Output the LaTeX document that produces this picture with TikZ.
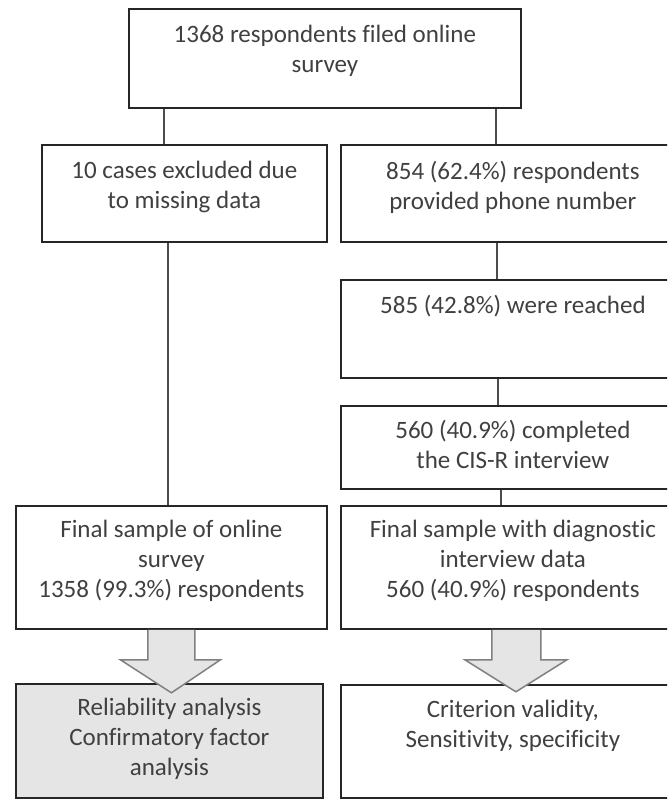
\documentclass[tikz,border=0pt]{standalone}
\usepackage{fontspec}
\setmainfont{Carlito}[Ligatures=NoCommon]
\usetikzlibrary{calc}
\begin{document}
\begin{tikzpicture}[x=1pt,y=-1pt,
  box/.style={draw=black!85, line width=1.8pt, rectangle, inner sep=0pt, anchor=north west},
  txt/.style={anchor=north, align=center, inner sep=0pt, text=black!75, font=\fontsize{25}{30}\selectfont},
  conn/.style={draw=black!70, line width=1.4pt},
  blockarrow/.style={fill=gray!20, draw=gray, line width=1.5pt, line join=miter}]
\useasboundingbox (0,0) rectangle (667,799);
\clip (0,0) rectangle (667,799);
\fill[white] (0,0) rectangle (667,799);

% boxes
\node[box, minimum width=392pt, minimum height=99pt] (top) at (128,8) {};
\node[box, minimum width=285pt, minimum height=97pt] (ml) at (41,144) {};
\node[box, minimum width=344pt, minimum height=97pt] (mr) at (340,144) {};
\node[box, minimum width=344pt, minimum height=98pt] (r1) at (340,279) {};
\node[box, minimum width=344pt, minimum height=83pt] (r2) at (340,405) {};
\node[box, minimum width=311pt, minimum height=123pt] (fl) at (15,505) {};
\node[box, minimum width=344pt, minimum height=123pt] (fr) at (340,505) {};
\node[box, fill=gray!20, minimum width=307pt, minimum height=114pt] (bl) at (15,683) {};
\node[box, minimum width=344pt, minimum height=113pt] (br) at (340,684) {};

% texts
\node[txt] (ttop) at ([yshift=-17pt]top.north) {1368 respondents filed online\\survey};
\node[txt] (tml) at ([yshift=-17pt]ml.north) {10 cases excluded due\\to missing data};
\node[txt] (tmr) at ([yshift=-17pt]mr.north) {854 (62.4\%) respondents\\provided phone number};
\node[txt] (tr1) at ([yshift=-16pt]r1.north) {585 (42.8\%) were reached};
\node[txt] (tr2) at ([yshift=-15pt]r2.north) {560 (40.9\%) completed\\the CIS-R interview};
\node[txt] (tfl) at ([yshift=-15pt]fl.north) {Final sample of online\\survey\\1358 (99.3\%) respondents};
\node[txt] (tfr) at ([yshift=-15pt]fr.north) {Final sample with diagnostic\\interview data\\560 (40.9\%) respondents};
\node[txt] (tbl) at ([yshift=-15pt]bl.north) {Reliability analysis\\Confirmatory factor\\analysis};
\node[txt] (tbr) at ([yshift=-16pt]br.north) {Criterion validity,\\Sensitivity, specificity};

% connectors
\coordinate (c1) at (164,0);
\coordinate (c2) at (496,0);
\coordinate (c3) at (168,0);
\coordinate (c4) at (497,0);
\coordinate (c5) at (498,0);
\coordinate (c6) at (501,0);
\draw[conn] (top.south -| c1) -- (ml.north -| c1);
\draw[conn] (top.south -| c2) -- (mr.north -| c2);
\draw[conn] (ml.south -| c3) -- (fl.north -| c3);
\draw[conn] (mr.south -| c4) -- (r1.north -| c4);
\draw[conn] (r1.south -| c5) -- (r2.north -| c5);
\draw[conn] (r2.south -| c6) -- (fr.north -| c6);

% block arrows
\draw[blockarrow] ($(fl.south)+(-23.5,0)$) -- ($(fl.south)+(-23.5,30)$) -- ($(fl.south)+(-51,30)$)
  -- ($(fl.south)+(0,63)$) -- ($(fl.south)+(49,30)$) -- ($(fl.south)+(23.5,30)$) -- ($(fl.south)+(23.5,0)$);
\draw[blockarrow] ($(fr.south)+(-21,0)$) -- ($(fr.south)+(-21,30)$) -- ($(fr.south)+(-48,30)$)
  -- ($(fr.south)+(3,62)$) -- ($(fr.south)+(54,30)$) -- ($(fr.south)+(28,30)$) -- ($(fr.south)+(28,0)$);
\end{tikzpicture}
\end{document}
